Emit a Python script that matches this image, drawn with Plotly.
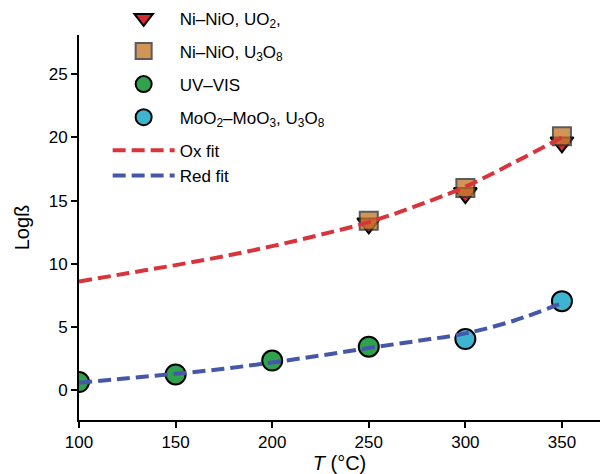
import plotly.graph_objects as go

# ---- data ----
T_uo2 = [250, 300, 350]
logb_uo2 = [13.2, 15.6, 19.6]

T_u3o8 = [250, 300, 350]
logb_u3o8 = [13.4, 16.0, 20.1]

T_uvvis = [100, 150, 200, 250]
logb_uvvis = [0.65, 1.25, 2.35, 3.45]

T_mo = [300, 350]
logb_mo = [4.05, 7.05]

T_fit = [100, 125, 150, 175, 200, 225, 250, 275, 300, 325, 350]
ox_fit = [8.6, 9.25, 9.9, 10.6, 11.4, 12.3, 13.3, 14.6, 16.1, 18.0, 20.0]
red_fit = [0.6, 0.95, 1.3, 1.7, 2.2, 2.75, 3.35, 3.9, 4.5, 5.5, 6.9]

x_ticks = [100, 150, 200, 250, 300, 350]
y_ticks = [0, 5, 10, 15, 20, 25]

FONT = "Liberation Sans, Arial, Helvetica, sans-serif"

fig = go.Figure()
fig.add_trace(go.Scatter(
    x=T_uo2, y=logb_uo2, mode="markers", name="Ni–NiO, UO<sub>2</sub>,",
    legendgroup="g1",
    marker=dict(symbol="triangle-down", size=20, color="#d92b2f",
                line=dict(color="black", width=2))))
fig.add_trace(go.Scatter(
    x=T_u3o8, y=logb_u3o8, mode="markers", name="Ni–NiO, U<sub>3</sub>O<sub>8</sub>",
    legendgroup="g2",
    marker=dict(symbol="square", size=18, color="#c57b2e", opacity=0.8,
                line=dict(color="#333333", width=2))))
fig.add_trace(go.Scatter(
    x=T_uvvis, y=logb_uvvis, mode="markers", name="UV–VIS",
    legendgroup="g3",
    marker=dict(symbol="circle", size=20, color="#2fa24d",
                line=dict(color="black", width=2))))
fig.add_trace(go.Scatter(
    x=T_mo, y=logb_mo, mode="markers",
    name="MoO<sub>2</sub>–MoO<sub>3</sub>, U<sub>3</sub>O<sub>8</sub>",
    legendgroup="g4",
    marker=dict(symbol="circle", size=20, color="#3db5d1",
                line=dict(color="black", width=2))))
fig.add_trace(go.Scatter(
    x=T_fit, y=ox_fit, mode="lines", name="Ox fit", legendgroup="g5",
    line=dict(color="#d9343b", width=4, dash="13px,6px", shape="spline")))
fig.add_trace(go.Scatter(
    x=T_fit, y=red_fit, mode="lines", name="Red fit", legendgroup="g5",
    line=dict(color="#4656a8", width=4, dash="13px,6px", shape="spline")))

fig.update_layout(
    width=600, height=474,
    margin=dict(l=79, r=0, t=32, b=54),
    paper_bgcolor="white", plot_bgcolor="white",
    font=dict(family=FONT, size=17, color="black"),
    legend=dict(x=0.055, y=1.09, xanchor="left", yanchor="top",
                bgcolor="rgba(0,0,0,0)", tracegroupgap=8,
                itemwidth=62, traceorder="grouped",
                font=dict(family=FONT, size=17)),
    xaxis=dict(range=[100, 369.7], tickvals=x_ticks, showgrid=False,
               zeroline=False, showline=True, linecolor="black", linewidth=2,
               ticks="outside", ticklen=6, tickwidth=2, tickcolor="black",
               title=dict(text="<i>T</i> (°C)", standoff=8)),
    yaxis=dict(range=[-2.35, 28.1], tickvals=y_ticks, showgrid=False,
               zeroline=False, showline=True, linecolor="black", linewidth=2,
               ticks="outside", ticklen=6, tickwidth=2, tickcolor="black",
               title=dict(text="Logß", standoff=14)),
)

fig.write_html("out.html")
